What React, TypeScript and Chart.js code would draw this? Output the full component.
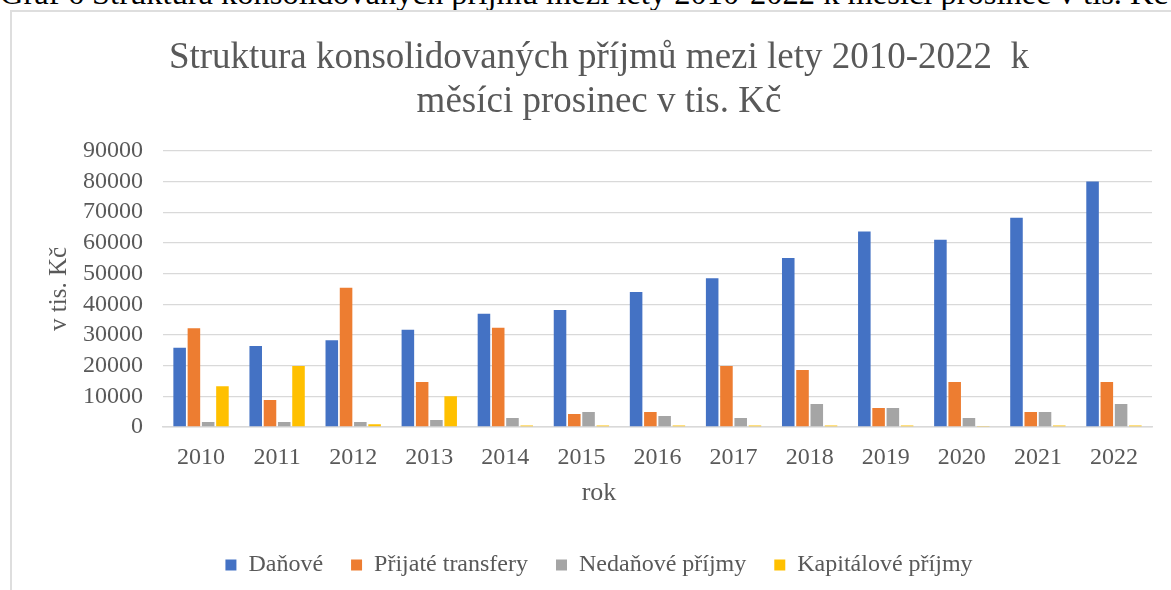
import React, { useEffect, useRef } from "react";
import { Chart, registerables } from "chart.js";

Chart.register(...registerables);

const caption =
  "Graf 6 Struktura konsolidovaných příjmů mezi lety 2010-2022 k měsíci prosinec v tis. Kč";
const titleLines = [
  "Struktura konsolidovaných příjmů mezi lety 2010-2022  k",
  "měsíci prosinec v tis. Kč",
];
const yAxisTitle = "v tis. Kč";
const xAxisTitle = "rok";

const years = [
  "2010", "2011", "2012", "2013", "2014", "2015", "2016",
  "2017", "2018", "2019", "2020", "2021", "2022",
];

const seriesNames = ["Daňové", "Přijaté transfery", "Nedaňové příjmy", "Kapitálové příjmy"];

const danove = [25800, 26400, 28300, 31700, 36900, 38100, 44000, 48500, 55100, 63700, 61000, 68200, 80000];
const prijateTransfery = [32200, 8800, 45400, 14700, 32300, 4200, 4900, 19900, 18600, 6200, 14700, 4900, 14700];
const nedanovePrijmy = [1600, 1600, 1600, 2300, 2900, 4900, 3600, 2900, 7500, 6200, 2900, 4900, 7500];
const kapitalovePrijmy = [13300, 19900, 900, 10000, 500, 500, 500, 500, 500, 500, 300, 500, 500];

const yTicksMin = 0;
const yTicksMax = 90000;
const yTicksStep = 10000;

const colors = ["#4472C4", "#ED7D31", "#A5A5A5", "#FFC000"];
const FONT = "'Liberation Serif', 'Times New Roman', serif";
const TEXT = "#595959";

export default function App() {
  const ref = useRef<HTMLCanvasElement | null>(null);

  useEffect(() => {
    document.body.style.margin = "0";
    document.body.style.overflow = "hidden";
    const canvas = ref.current;
    if (!canvas) return;
    const values = [danove, prijateTransfery, nedanovePrijmy, kapitalovePrijmy];
    const chart = new Chart(canvas, {
      type: "bar",
      data: {
        labels: years,
        datasets: seriesNames.map((name, i) => ({
          label: name,
          data: values[i],
          backgroundColor: colors[i],
          borderWidth: 0,
          categoryPercentage: 0.75,
          barPercentage: 0.88,
        })),
      },
      options: {
        animation: false,
        responsive: false,
        layout: { padding: { left: 34, right: 34, top: 0, bottom: 25 } },
        plugins: {
          tooltip: { enabled: false },
          title: {
            display: true,
            text: titleLines,
            color: TEXT,
            font: { family: FONT, size: 37, weight: "normal", lineHeight: 1.2 },
            padding: { top: 24, bottom: 26 },
          },
          subtitle: {
            display: true,
            text: xAxisTitle,
            position: "bottom",
            weight: 500,
            color: TEXT,
            font: { family: FONT, size: 26, weight: "normal", lineHeight: 1.2 },
            padding: { top: -2.4, bottom: 16.4 },
          },
          legend: {
            display: true,
            position: "bottom",
            labels: {
              color: TEXT,
              font: { family: FONT, size: 24 },
              boxWidth: 11,
              boxHeight: 11,
              padding: 28,
            },
          },
        },
        scales: {
          x: {
            grid: { display: false },
            border: { display: true, color: "#d9d9d9", width: 1.5 },
            ticks: {
              color: TEXT,
              font: { family: FONT, size: 24 },
              padding: 8,
              maxRotation: 0,
            },
          },
          y: {
            min: yTicksMin,
            max: yTicksMax,
            afterFit: (scale: any) => {
              scale.width = 117;
            },
            grid: { color: "#d9d9d9", lineWidth: 1.3, drawTicks: false },
            border: { display: false },
            ticks: {
              stepSize: yTicksStep,
              autoSkip: false,
              color: TEXT,
              font: { family: FONT, size: 24 },
              padding: 20,
              callback: (v: any) => String(v),
            },
            title: {
              display: true,
              text: yAxisTitle,
              color: TEXT,
              font: { family: FONT, size: 25 },
              padding: { top: -1.5, bottom: 0 },
            },
          },
        },
      },
    } as any);
    return () => chart.destroy();
  }, []);

  return (
    <div style={{ position: "relative", width: 1171, height: 590, overflow: "hidden", background: "#fff" }}>
      <div
        style={{
          position: "absolute",
          left: 0,
          top: -23,
          fontFamily: FONT,
          fontSize: 32.5,
          lineHeight: "32px",
          whiteSpace: "nowrap",
          color: "#000",
        }}
      >
        {caption}
      </div>
      <div
        style={{
          position: "absolute",
          left: 10,
          top: 10,
          width: 1220,
          height: 700,
          border: "2px solid #dedede",
          borderRight: "none",
          borderBottom: "none",
        }}
      >
        <canvas ref={ref} width={1174} height={600} style={{ display: "block" }} />
      </div>
    </div>
  );
}
